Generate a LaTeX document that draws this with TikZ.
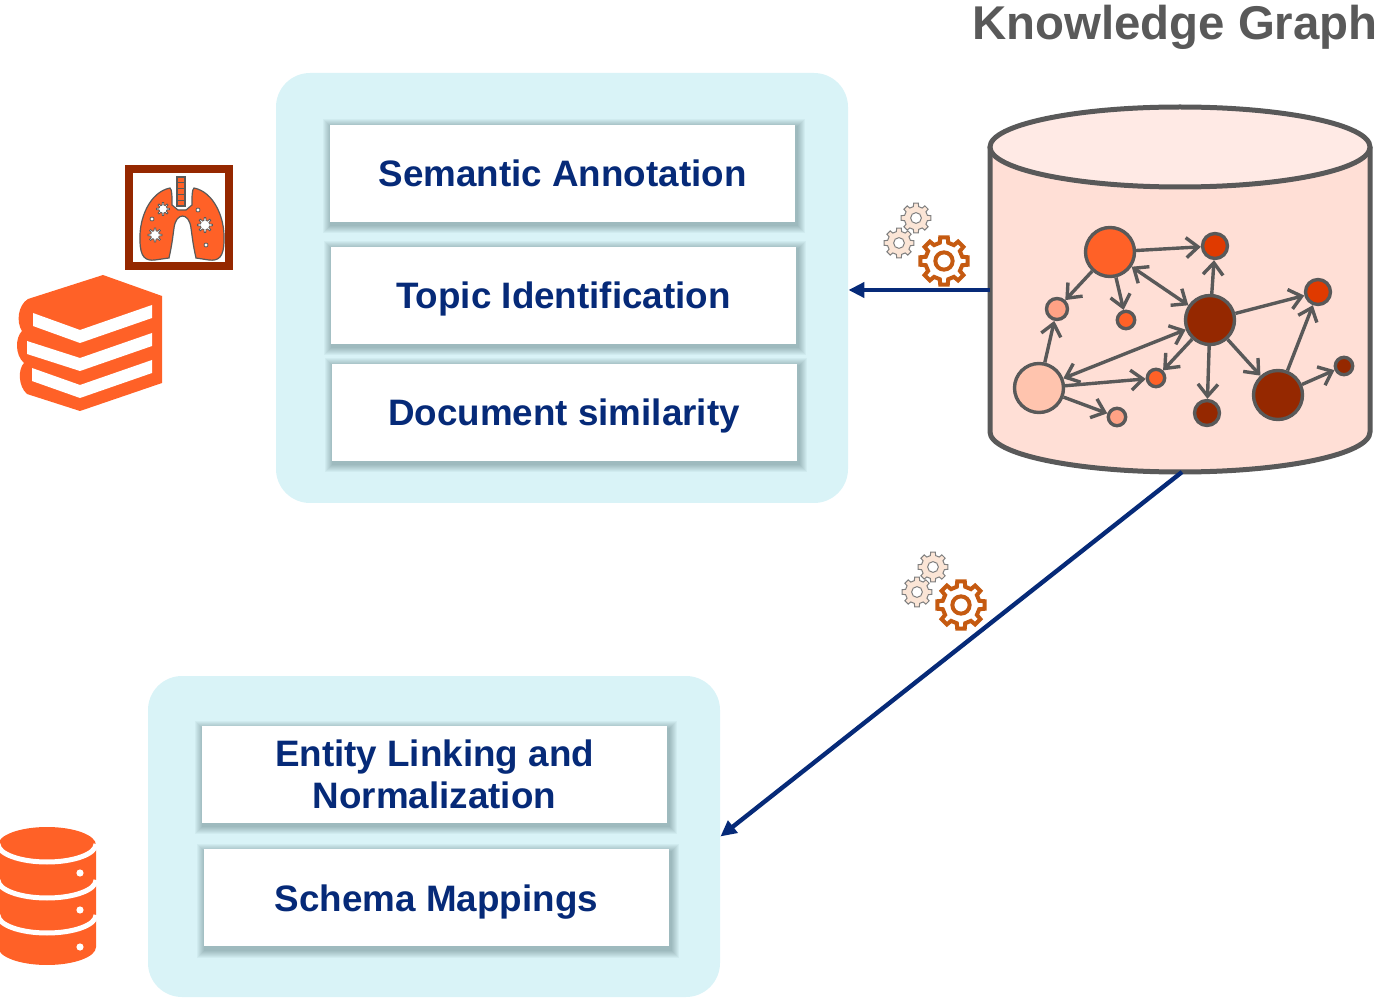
\documentclass[tikz,border=0pt]{standalone}
\usepackage{fontspec}
\setmainfont{Liberation Sans}
\usetikzlibrary{arrows.meta}

\definecolor{panelc}{HTML}{D9F3F7}
\definecolor{navy}{HTML}{062A78}
\definecolor{titlegray}{HTML}{595959}
\definecolor{kggray}{HTML}{595959}
\definecolor{iconorange}{HTML}{FF6127}
\definecolor{darkred}{HTML}{952800}
\definecolor{redn}{HTML}{E03A00}
\definecolor{salmon}{HTML}{FFA285}
\definecolor{peach}{HTML}{FFC4AE}
\definecolor{cylbody}{HTML}{FFDFD6}
\definecolor{cyltop}{HTML}{FFEAE5}
\definecolor{gearbrown}{HTML}{C55A11}
\definecolor{gearpeach}{HTML}{FBE5D6}
\definecolor{gearline}{HTML}{7F7F7F}
\definecolor{shadowc}{HTML}{1E3C40}

\pgfdeclarelayer{background}
\pgfdeclarelayer{shadow}
\pgfsetlayers{background,shadow,main}

\tikzset{
  panel/.style={fill=panelc, rounded corners=17pt, minimum width=286pt, inner sep=0pt},
  taskbox/.style={fill=white, minimum width=232.5pt, minimum height=48.5pt, inner sep=0pt,
    font=\bfseries\fontsize{18.4}{21}\selectfont, text=navy, align=center},
  oneline/.style={text height=13.4pt, text depth=0pt, yshift=-0.8pt},
  softlayer/.style={fill=shadowc, opacity=0.045},
  kg/.style={circle, draw=kggray, line width=1.7pt, inner sep=0pt},
  kgedge/.style={draw=kggray, line width=1.7pt, -{Straight Barb[length=6pt,width=10pt]}},
  kgboth/.style={draw=kggray, line width=1.7pt,
    {Straight Barb[length=6pt,width=10pt]}-{Straight Barb[length=6pt,width=10pt]}},
  flow/.style={draw=navy, line width=2.2pt, -{Triangle[length=8pt,width=7.5pt]}},
  bigcog/.style={draw=gearbrown, fill=white, line width=2pt},
  smallcog/.style={draw=gearline, fill=gearpeach, line width=0.5pt},
  viruscell/.style={draw=kggray, fill=white, line width=0.4pt},
  pics/cog/.style={code={
    \path[pic actions, even odd rule] (-13:0.78)
      \foreach \a in {0,45,...,315}{ -- ({\a-9}:1) -- ({\a+9}:1) -- ({\a+13}:0.78) -- ({\a+32}:0.78) } -- cycle
      (0,0) circle (0.36);
  }},
  pics/virus/.style={code={
    \path[pic actions] (-13:0.62)
      \foreach \a in {0,45,...,315}{ -- ({\a-6}:1) -- ({\a+6}:1) -- ({\a+13}:0.62) -- ({\a+32}:0.62) } -- cycle;
  }},
}

\begin{document}
\begin{tikzpicture}[x=0.5pt,y=-0.5pt]
\useasboundingbox (0,0) rectangle (1383,1000);

% ---- title
\node[anchor=base east, inner sep=0pt, text=titlegray,
      font=\bfseries\fontsize{23.7}{28}\selectfont] (title) at (1378,40) {Knowledge Graph};

% ---- panels
\begin{pgfonlayer}{background}
\node[panel, minimum height=215pt] (tp) at (562,288) {};
\node[panel, minimum height=160.5pt] (bp) at (434,836.5) {};
\end{pgfonlayer}

% ---- task boxes
\node[taskbox, oneline] (sem) at (562.5,171.5) {Semantic Annotation};
\node[taskbox, oneline] (top) at (563.5,293.5) {Topic Identification};
\node[taskbox, oneline] (doc) at (564,410.5) {Document similarity};
\node[taskbox] (ent) at (434.5,774.5) {Entity Linking and\\Normalization};
\node[taskbox, oneline] (sch) at (436.5,896) {Schema Mappings};

% soft drop shadows under the task boxes
\begin{pgfonlayer}{shadow}
\foreach \b in {sem,top,doc,ent,sch}
  \foreach \k in {1,...,8}
    \fill[softlayer]
      ([xshift={0.8pt-\k*0.5pt}, yshift={-1.5pt+\k*0.5pt}]\b.north west) rectangle
      ([xshift={0.8pt+\k*0.5pt}, yshift={-1.5pt-\k*0.5pt}]\b.south east);
\end{pgfonlayer}

% ---- knowledge graph store
\path[fill=cylbody, draw=kggray, line width=2.5pt]
  (990,147) -- (990,432) arc[start angle=180, end angle=0, x radius=190, y radius=40] -- (1370,147);
\path[fill=cyltop, draw=kggray, line width=2.5pt] (1180,147) ellipse [x radius=190, y radius=40];
\coordinate (kgL) at (990,290);
\coordinate (kgB) at (1182,472);

% graph nodes
\node[kg, fill=iconorange, minimum size=24.5pt] (n1) at (1110,252) {};
\node[kg, fill=redn, minimum size=12.5pt] (n2) at (1215,246) {};
\node[kg, fill=darkred, minimum size=24.5pt] (n3) at (1210,320) {};
\node[kg, fill=salmon, minimum size=10.5pt] (n4) at (1057,309) {};
\node[kg, fill=iconorange, minimum size=8.7pt] (n5) at (1126,320) {};
\node[kg, fill=redn, minimum size=12.5pt] (n6) at (1318,292) {};
\node[kg, fill=peach, minimum size=24.5pt] (n7) at (1039,388) {};
\node[kg, fill=iconorange, minimum size=8.7pt] (n8) at (1156,378) {};
\node[kg, fill=salmon, minimum size=8.7pt] (n9) at (1117,417) {};
\node[kg, fill=darkred, minimum size=12.5pt] (n10) at (1207,413) {};
\node[kg, fill=darkred, minimum size=24.5pt] (n11) at (1278,395) {};
\node[kg, fill=darkred, minimum size=8.7pt] (n12) at (1344,366) {};

\draw[kgedge] (n1) -- (n2);
\draw[kgedge] (n1) -- (n4);
\draw[kgedge] (n1) -- (n5);
\draw[kgboth] (n1) -- (n3);
\draw[kgedge] (n3) -- (n2);
\draw[kgedge] (n3) -- (n6);
\draw[kgedge] (n3) -- (n8);
\draw[kgedge] (n3) -- (n10);
\draw[kgedge] (n3) -- (n11);
\draw[kgboth] (n7) -- (n3);
\draw[kgedge] (n7) -- (n4);
\draw[kgedge] (n7) -- (n8);
\draw[kgedge] (n7) -- (n9);
\draw[kgedge] (n11) -- (n6);
\draw[kgedge] (n11) -- (n12);

% ---- flows out of the store
\draw[flow] (kgL) -- (tp.east |- kgL);
\draw[flow] (kgB) -- (bp.east);

% ---- processing gears
\pic[smallcog, scale=15] at (916,218) {cog};
\pic[smallcog, scale=15] at (899,243) {cog};
\pic[bigcog, scale=24] at (944,261) {cog};
\pic[smallcog, scale=15] at (933,567) {cog};
\pic[smallcog, scale=15] at (917,592) {cog};
\pic[bigcog, scale=24] at (961,605) {cog};

% ---- lungs icon
\draw[darkred, line width=4pt, fill=white] (129,169) rectangle (229,266);
\path[fill=iconorange, draw=kggray, line width=0.6pt]
  (170,188) .. controls (150,192) and (139,218) .. (140,240)
  .. controls (140,258) and (146,261) .. (155,260)
  -- (169,258) .. controls (172,245) and (173,235) .. (174,228)
  .. controls (176,212) and (189,212) .. (191,228)
  .. controls (192,235) and (193,245) .. (196,258)
  -- (209,260) .. controls (218,261) and (224,258) .. (224,240)
  .. controls (225,218) and (214,192) .. (194,188)
  .. controls (192,190) and (192,195) .. (192,205)
  -- (186,210) -- (178,210) -- (172,205)
  .. controls (172,195) and (172,190) .. (170,188) -- cycle;
\path[fill=iconorange, draw=kggray, line width=0.6pt] (177,177) rectangle (185,206);
\foreach \yy in {183,189,195,201} \draw[kggray, line width=0.5pt] (177,\yy) -- (185,\yy);
\pic[viruscell, scale=6.5] at (163,209) {virus};
\pic[viruscell, scale=7] at (155,235) {virus};
\pic[viruscell, scale=7.5] at (205,225) {virus};
\foreach \p in {(152,219),(198,210),(206,245)}
  \path[viruscell] \p circle (2);

% ---- books icon
\fill[iconorange] (28,299) -- (103,275) -- (162,296) -- (162,383) -- (80,411) -- (27,394)
  .. controls (18,386) and (18,369) .. (24,363)
  .. controls (15,355) and (15,338) .. (22,331)
  .. controls (16,322) and (18,305) .. (28,299) -- cycle;
\foreach \dx/\dy in {33/0, 27/28, 32/55}
  \fill[white] (\dx,313+\dy) -- (80,330+\dy) -- (152,305+\dy) -- (152,318+\dy)
    -- (80,343+\dy) -- (\dx,326+\dy) -- cycle;

% ---- database icon
\fill[iconorange] (-2,845) -- (-2,947) arc[start angle=180, end angle=0, x radius=49, y radius=18]
  -- (96,845) arc[start angle=0, end angle=-180, x radius=49, y radius=18] -- cycle;
\foreach \cy in {844,880,915}
  \draw[white, line width=2.5pt] (-2,\cy) arc[start angle=180, end angle=0, x radius=49, y radius=18];
\foreach \cy in {873,910,947}
  \fill[white] (80,\cy) circle (3.6);
\end{tikzpicture}
\end{document}
